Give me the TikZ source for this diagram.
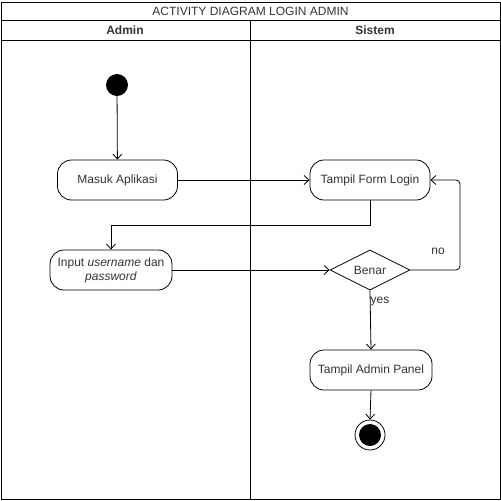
\documentclass[tikz,border=0pt]{standalone}
\usepackage{fontspec}
\setmainfont{Liberation Sans}
\usetikzlibrary{arrows.meta,shapes.geometric}
\begin{document}
\begin{tikzpicture}[x=1pt,y=-1pt,
  every node/.style={font=\fontsize{12}{14}\selectfont, text=black!80},
  act/.style={draw, line width=0.8pt, rounded corners=14pt, minimum width=120pt, minimum height=40pt, inner sep=0pt, align=center},
  dec/.style={draw, line width=0.8pt, diamond, minimum width=80pt, minimum height=40pt, inner sep=0pt, aspect=2},
  flow/.style={draw, line width=0.8pt, -{Straight Barb[length=5pt,width=9pt]}},
  frame/.style={draw, line width=0.8pt}]
\useasboundingbox (0,0) rectangle (501,501);
% frame
\draw[frame] (1,2) rectangle (500,499);
\draw[frame] (1,20) -- (500,20);
\draw[frame] (1,40) -- (500,40);
\draw[frame] (250,20) -- (250,499);
\node (title) at (250.5,11) {ACTIVITY DIAGRAM LOGIN ADMIN};
\node[font=\fontsize{12}{14}\selectfont\bfseries] (hadmin) at (125,30) {Admin};
\node[font=\fontsize{12}{14}\selectfont\bfseries] (hsistem) at (375,30) {Sistem};
% nodes
\node[circle, fill=black, minimum size=22pt, inner sep=0pt] (start) at (117,85) {};
\node[act] (masuk) at (117.5,180) {Masuk Aplikasi};
\node[act] (form) at (370,180) {Tampil Form Login};
\node[act, minimum width=122pt] (input) at (111,270) {Input \textit{username} dan\\\textit{password}};
\node[dec] (benar) at (370,270) {Benar};
\node[act, minimum width=122pt] (panel) at (371,370) {Tampil Admin Panel};
\node[circle, draw, line width=0.8pt, minimum size=30pt, inner sep=0pt] (end) at (370,435) {};
\node[circle, fill=black, minimum size=22pt, inner sep=0pt] (endin) at (end.center) {};
% connectors
\draw[flow] (start) -- (masuk);
\draw[flow] (masuk) -- (form);
\draw[flow] (form.south) |- (111,225) -- (input.north);
\draw[flow] (input) -- (benar);
\draw[flow, rounded corners=4pt] (benar.east) -- (460,270) -- (460,180) -- (form.east);
\node (no) at (438,251) {no};
\draw[flow] (benar.south) -- (panel.north);
\node (yes) at (380,302) {yes};
\draw[flow] (panel.south) -- (end.north);
\end{tikzpicture}
\end{document}
